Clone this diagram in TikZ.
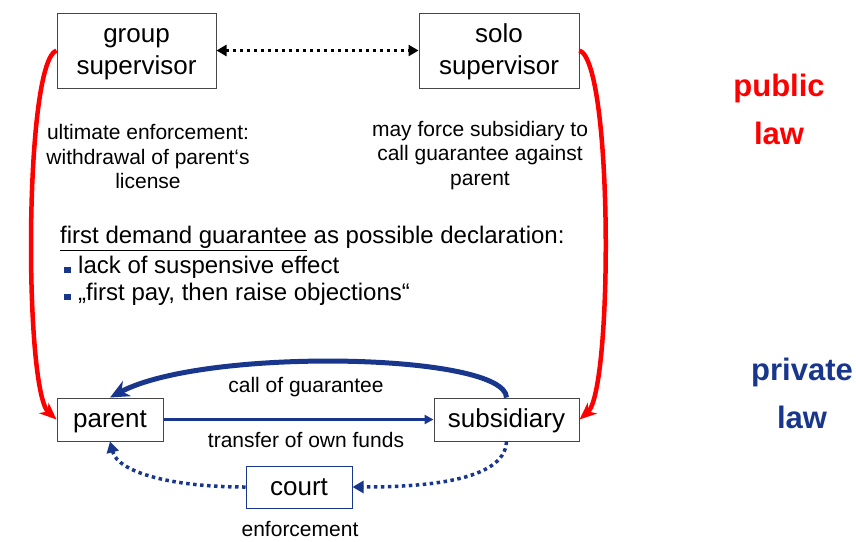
\documentclass[tikz,border=0pt]{standalone}
\usepackage{fontspec}
\setmainfont{Liberation Sans}
\usetikzlibrary{arrows.meta}

\definecolor{lawred}{RGB}{255,0,0}
\definecolor{lawblue}{RGB}{24,54,140}
\definecolor{boxgray}{RGB}{70,70,70}

% fixed line box so that every box label sits at the same height
\newcommand\boxstrut{\rule[-4.4pt]{0pt}{26.4pt}}

\begin{document}
\begin{tikzpicture}[x=1pt,y=-1pt,
  box/.style={draw=boxgray, line width=1pt, fill=white, inner sep=0pt, align=center,
    font=\fontsize{26}{32}\selectfont},
  courtbox/.style={box, draw=lawblue},
  note/.style={align=center, font=\fontsize{21}{24.5}\selectfont, inner sep=0pt},
  lawlabel/.style={align=center, font=\fontsize{31}{48}\selectfont\bfseries, inner sep=0pt},
  bulletsq/.style={fill=lawblue, minimum size=6.5pt, inner sep=0pt},
  redarc/.style={draw=lawred, line width=4.5pt,
    -{Stealth[length=17pt,width=14pt,inset=5pt]}},
  bigblue/.style={draw=lawblue, line width=5pt,
    -{Stealth[length=19pt,width=17pt,inset=6pt]}},
  thinblue/.style={draw=lawblue, line width=2.5pt,
    -{Triangle[length=9pt,width=9pt]}},
  dotblue/.style={draw=lawblue, line width=3.5pt, dash pattern=on 3.5pt off 3.5pt,
    -{Triangle[length=11pt,width=12pt]}},
  dotblack/.style={draw=black, line width=3.5pt, dash pattern=on 3.5pt off 3.5pt,
    {Triangle[length=10pt,width=11pt]}-{Triangle[length=10pt,width=11pt]}}
]
\useasboundingbox (0,0) rectangle (856,541);

% supervisors
\node[box, minimum width=159pt, minimum height=75pt] (group) at (136.5,50.5)
  {\boxstrut group\\\boxstrut supervisor};
\node[box, minimum width=160pt, minimum height=75pt] (solo) at (499,50.5)
  {\boxstrut solo\\\boxstrut supervisor};

% private parties
\node[box, minimum width=106pt, minimum height=43pt] (parent) at (110,419.5) {\boxstrut parent};
\node[box, minimum width=145pt, minimum height=43pt] (subsidiary) at (506.5,419.5) {\boxstrut subsidiary};
\node[courtbox, minimum width=106pt, minimum height=42pt] (court) at (299,487) {\boxstrut court};

% notes under the supervisors
\node[note] (ultimate) at (148,156.5) {ultimate enforcement:\\withdrawal of parent‘s\\license};
\node[note] (mayforce) at (480,155.5) {may force subsidiary to\\call guarantee against\\parent};

% declaration with bullet points
\node[anchor=base west, inner sep=0pt, font=\fontsize{24}{28}\selectfont] (decl) at (60,243.5)
  {\underline{first demand guarantee} as possible declaration:};
\node[bulletsq] (b1) at (67.3,270) {};
\node[anchor=base west, inner sep=0pt, font=\fontsize{24}{28}\selectfont] (lack) at (78,273.5)
  {lack of suspensive effect};
\node[bulletsq] (b2) at (67.3,297) {};
\node[anchor=base west, inner sep=0pt, font=\fontsize{24}{28}\selectfont] (firstpay) at (78,300.5)
  {„first pay, then raise objections“};

% side labels
\node[lawlabel, text=lawred] (public) at (779,109) {public\\law};
\node[lawlabel, text=lawblue] (private) at (802,393) {private\\law};

% connector labels
\node[note] (callg) at (306,387) {call of guarantee};
\node[note] (transfer) at (306,440) {transfer of own funds};
\node[note] (enf) at (300,529) {enforcement};

% supervisors talk to each other
\draw[dotblack] (group.east) -- (solo.west);

% public law reach
\draw[redarc] (group.west) .. controls (24,62) and (24,390) .. (parent.west);
\draw[redarc] (solo.east) .. controls (613,62) and (613,390) .. (subsidiary.east);

% private law relations
\draw[bigblue] (subsidiary.north) .. controls (505,353) and (205,347) .. (parent.north);
\draw[thinblue] (parent.east) -- (subsidiary.west);
\draw[dotblue] (subsidiary.south) .. controls (505,482) and (420,487) .. (court.east);
\draw[dotblue] (court.west) .. controls (170,487) and (118,472) .. (parent.south);
\end{tikzpicture}
\end{document}
